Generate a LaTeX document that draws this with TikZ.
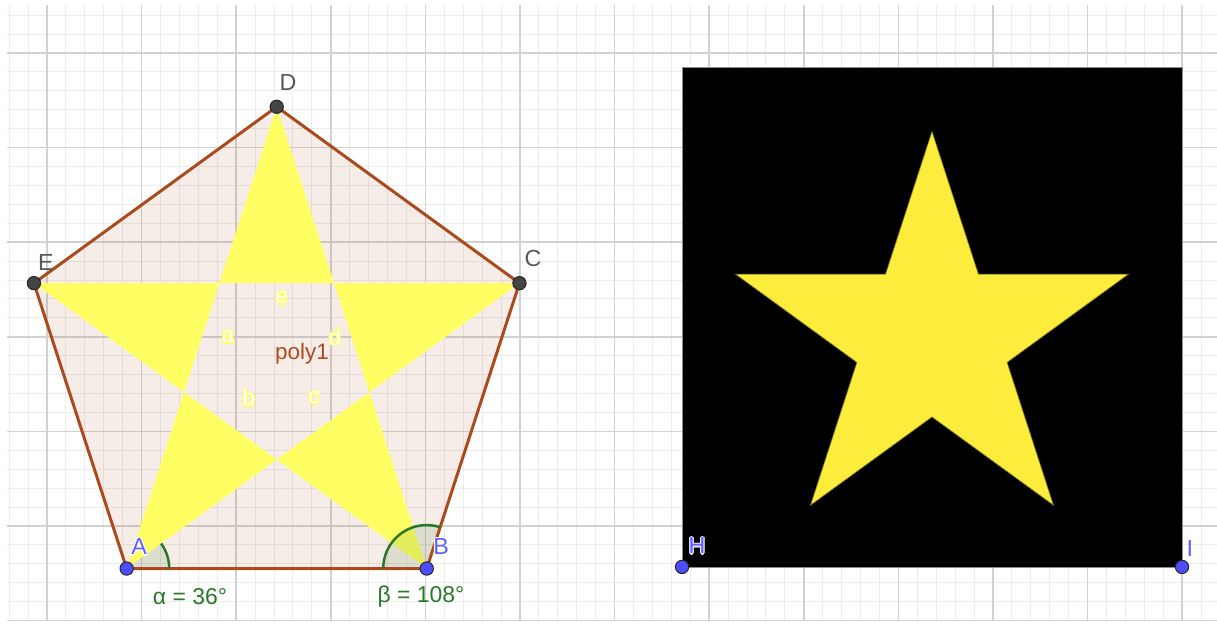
\documentclass[tikz,border=0pt]{standalone}
\usepackage{fontspec}
\setmainfont{Liberation Sans}
\usetikzlibrary{calc}
\definecolor{polybrown}{RGB}{170,75,30}
\definecolor{staryellow}{RGB}{255,255,100}
\definecolor{imgyellow}{RGB}{252,236,60}
\definecolor{anglegreen}{RGB}{40,120,40}
\definecolor{ptblue}{RGB}{77,77,255}
\definecolor{lblblue}{RGB}{95,95,255}
\definecolor{ptgray}{RGB}{68,68,68}
\definecolor{majorgrid}{RGB}{210,210,210}
\definecolor{minorgrid}{RGB}{236,236,236}
% label with a halo round it
\newcommand{\halo}[3]{\setbox0\hbox{#3}%
  \foreach \hx/\hy in {-.7/0,.7/0,0/-.7,0/.7,-.5/-.5,.5/.5,-.5/.5,.5/-.5}{\rlap{\kern\hx pt\raise\hy pt\hbox{\color{#1}\copy0}}}%
  {\color{#2}\box0}}

\begin{document}
\begin{tikzpicture}[x=2cm, y=2cm, font=\fontsize{13.5}{15}\selectfont,
  pt/.style={circle, draw=black!85, line width=0.6pt, inner sep=0pt, minimum size=8pt},
  freept/.style={pt, fill=ptblue},
  deppt/.style={pt, fill=ptgray},
  ptlabel/.style={inner sep=0pt, text=black!65, font=\fontsize{14}{16}\selectfont},
  seglabel/.style={inner sep=0pt, text=white},
  anglabel/.style={inner sep=0pt, text=anglegreen, font=\fontsize{13.8}{15}\selectfont},
  edge/.style={polybrown, line width=1.8pt, line join=round},
  arcline/.style={anglegreen, line width=1.5pt},
  sector/.style={anglegreen, fill opacity=0.12}]
  \useasboundingbox (-0.497,-0.036) rectangle (12.368,6.56);
  % grid
  \draw[minorgrid, line width=0.6pt, step=0.2] (-0.42,0) grid (12.368,6.51);
  \draw[majorgrid, line width=0.9pt, step=1] (-0.42,0) grid (12.368,6.51);
  % regular pentagon on AB
  \coordinate (A) at (0.842,0.55);
  \coordinate (B) at (4.014,0.55);
  \coordinate (C) at ($(B)!1!-108:(A)$);
  \coordinate (D) at ($(C)!1!-108:(B)$);
  \coordinate (E) at ($(D)!1!-108:(C)$);
  \fill[polybrown, fill opacity=0.1] (A) -- (B) -- (C) -- (D) -- (E) -- cycle;
  \fill[staryellow, even odd rule] (A) -- (C) -- (E) -- (B) -- (D) -- cycle;
  \fill[sector] (A) -- ++(0:0.45) arc[start angle=0, end angle=36, radius=0.45] -- cycle;
  \fill[sector] (B) -- ++(72:0.46) arc[start angle=72, end angle=180, radius=0.46] -- cycle;
  \draw[edge] (A) -- (B) -- (C) -- (D) -- (E) -- cycle;
  \draw[arcline] ($(A)+(0:0.45)$) arc[start angle=0, end angle=36, radius=0.45];
  \draw[arcline] ($(B)+(72:0.46)$) arc[start angle=72, end angle=180, radius=0.46];
  \node[seglabel] (la) at (1.913,2.997) {\halo{staryellow}{white}{a}};
  \node[seglabel] (lb) at (2.135,2.353) {\halo{staryellow}{white}{b}};
  \node[seglabel] (lc) at (2.822,2.353) {\halo{staryellow}{white}{c}};
  \node[seglabel] (ld) at (3.044,2.997) {\halo{staryellow}{white}{d}};
  \node[seglabel] (le) at (2.484,3.41) {\halo{staryellow}{white}{e}};
  \node[inner sep=0pt, text=polybrown] (poly) at (2.696,2.818) {poly1};
  \node[anglabel] (alpha) at (1.512,0.25) {α = 36°};
  \node[anglabel] (beta) at (3.953,0.25) {β = 108°};
  \node[freept] (dotA) at (A) {};
  \node[freept] (dotB) at (B) {};
  \node[deppt] (dotC) at (C) {};
  \node[deppt] (dotD) at (D) {};
  \node[deppt] (dotE) at (E) {};
  \node[ptlabel] (lblA) at (0.973,0.778) {\halo{white}{lblblue}{A}};
  \node[ptlabel] (lblB) at (4.165,0.778) {\halo{white}{lblblue}{B}};
  \node[ptlabel] (lblC) at (5.137,3.83) {C};
  \node[ptlabel] (lblD) at (2.548,5.693) {D};
  \node[ptlabel] (lblE) at (-0.011,3.79) {E};
  % black picture with the star
  \coordinate (H) at (6.713,0.567);
  \coordinate (I) at (11.998,0.567);
  \coordinate (S) at (9.355,2.987);
  \fill[black, draw=black!45, line width=0.5pt] (H) rectangle ($(I)+(0,5.285)$);
  \fill[imgyellow, draw=imgyellow!55!black, line width=0.4pt] ($(S)+(90:2.182)$)
    \foreach \k in {0,...,4}{ -- ($(S)+(126+72*\k:0.834)$) -- ($(S)+(162+72*\k:2.182)$)} -- cycle;
  \node[freept] (dotH) at (H) {};
  \node[freept] (dotI) at (I) {};
  \node[ptlabel] (lblH) at (6.871,0.789) {\halo{white!85!lblblue}{lblblue}{H}};
  \node[ptlabel, text=lblblue] (lblI) at (12.08,0.757) {I};
\end{tikzpicture}
\end{document}
